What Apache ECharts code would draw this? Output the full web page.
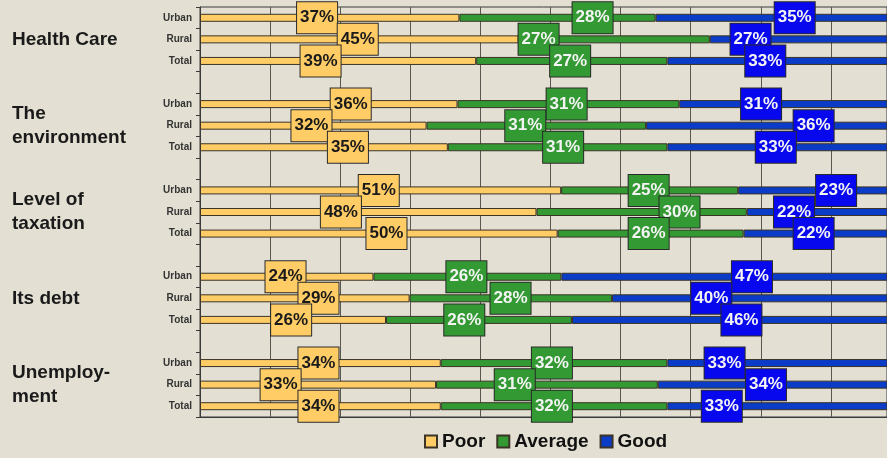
<!DOCTYPE html>
<html>
<head>
<meta charset="utf-8">
<script src="https://cdn.jsdelivr.net/npm/echarts@6/dist/echarts.min.js"></script>
<style>
html,body{margin:0;padding:0;background:#e3e0d3;}
#chart{width:887px;height:458px;}
</style>
</head>
<body>
<div id="chart"></div>
<script>
// survey answers, percent as printed on the chart
const groups=['Health Care','The\nenvironment','Level of\ntaxation','Its debt','Unemploy-\nment']
const rows=['Urban','Rural','Total']
const poor=[[37,45,39],[36,32,35],[51,48,50],[24,29,26],[34,33,34]]
const average=[[28,27,27],[31,31,31],[25,30,26],[26,28,26],[32,31,32]]
const good=[[35,27,33],[31,36,33],[23,22,22],[47,40,46],[33,34,33]]

// label boxes were dragged by hand in the original, this is where each one sits (axis units)
const poorLabelAt=[[16.7,22.5,17.2],[21.5,15.9,21.1],[25.5,20.1,26.6],[12.2,16.9,13.0],[16.9,11.5,16.9]]
const averageLabelAt=[[56.0,48.3,52.8],[52.3,46.4,51.8],[64.0,68.4,64.0],[38.0,44.3,37.7],[50.2,44.9,50.2]]
const goodLabelAt=[[85.8,79.5,81.6],[81.0,88.5,83.1],[91.7,85.7,88.5],[79.7,73.9,78.2],[75.8,81.7,75.4]]

const gridLeft=200
// the picture is cut off before 100%, the right edge sits at 98%
const axisEnd=98
const chart=echarts.init(document.getElementById('chart'))
const pxPerUnit=(chart.getWidth()-gridLeft)/axisEnd

//category slots: 3 rows per group + an empty slot between groups
const categories=[]
groups.forEach((g,gi)=>{
    rows.forEach(r=>categories.push(gi+'|'+r))
    if(gi<groups.length-1) categories.push('gap'+gi)
})

//100% stacked, so every row is scaled to its own sum
function rowSum(gi,ri){
    return poor[gi][ri]+average[gi][ri]+good[gi][ri]
}

function buildData(vals,labelAt,before){
    const data=[]
    groups.forEach((g,gi)=>{
        rows.forEach((r,ri)=>{
            const sum=rowSum(gi,ri)
            const start=before.reduce((acc,arr)=>acc+arr[gi][ri],0)/sum*100
            const v=vals[gi][ri]/sum*100
            const center=start+v/2
            data.push({
                value:v,
                raw:vals[gi][ri],
                label:{offset:[(labelAt[gi][ri]-center)*pxPerUnit,0]}
            })
        })
        if(gi<groups.length-1) data.push('-')
    })
    return data
}

function makeSeries(name,data,barColor,boxColor,textColor){
    return {
        name:name,
        type:'bar',
        stack:'all',
        barWidth:8,
        data:data,
        itemStyle:{
            color:barColor,
            borderColor:'#3a3326',
            borderWidth:1
        },
        label:{
            show:true,
            position:'inside',
            formatter:p=>p.data.raw+'%',
            fontFamily:'Liberation Sans, Arial',
            fontSize:17,
            fontWeight:'bold',
            lineHeight:17,
            color:textColor,
            backgroundColor:boxColor,
            borderColor:'#2a2a2a',
            borderWidth:1,
            padding:[7,3]
        },
        emphasis:{disabled:true}
    }
}

const option={
    backgroundColor:'#e3e0d3',
    animation:false,
    grid:{
        left:gridLeft,
        right:0,
        top:7,
        bottom:41,
        show:true,
        borderColor:'#3a3a3a',
        borderWidth:1
    },
    legend:{
        left:424,
        top:432,
        padding:0,
        icon:'rect',
        itemWidth:12,
        itemHeight:12,
        itemGap:11,
        textStyle:{
            fontFamily:'Liberation Sans, Arial',
            fontSize:19,
            fontWeight:'bold',
            color:'#111'
        },
        data:['Poor','Average','Good']
    },
    xAxis:{
        type:'value',
        min:0,
        max:axisEnd,
        interval:10,
        axisLabel:{show:false},
        axisTick:{show:false},
        axisLine:{show:true,lineStyle:{color:'#3a3a3a'}},
        splitLine:{lineStyle:{color:'#5a5650',width:1}}
    },
    yAxis:[
        {
            type:'category',
            inverse:true,
            data:categories,
            axisLine:{show:true,lineStyle:{color:'#3a3a3a'}},
            axisTick:{show:true,length:4,lineStyle:{color:'#3a3a3a'}},
            axisLabel:{
                interval:0,
                formatter:v=>v.split('|')[1]||'',
                fontFamily:'Liberation Sans, Arial',
                fontSize:10,
                fontWeight:'bold',
                color:'#333',
                margin:8
            }
        },
        {
            //group titles down the left side
            type:'category',
            position:'left',
            offset:0,
            inverse:true,
            data:categories,
            axisLine:{show:false},
            axisTick:{show:false},
            axisLabel:{
                interval:0,
                formatter:v=>v.endsWith('|Rural')?groups[+v.split('|')[0]]:'',
                align:'left',
                margin:188,
                fontFamily:'Liberation Sans, Arial',
                fontSize:19,
                fontWeight:'bold',
                lineHeight:24,
                color:'#1a1a1a'
            }
        }
    ],
    series:[
        makeSeries('Poor',buildData(poor,poorLabelAt,[]),'#FFCC66','#FFCC66','#1a1a1a'),
        makeSeries('Average',buildData(average,averageLabelAt,[poor]),'#339933','#339933','#f4f4f4'),
        makeSeries('Good',buildData(good,goodLabelAt,[poor,average]),'#0A3CC8','#0808EE','#f4f4f4')
    ]
}
chart.setOption(option)
</script>
</body>
</html>
